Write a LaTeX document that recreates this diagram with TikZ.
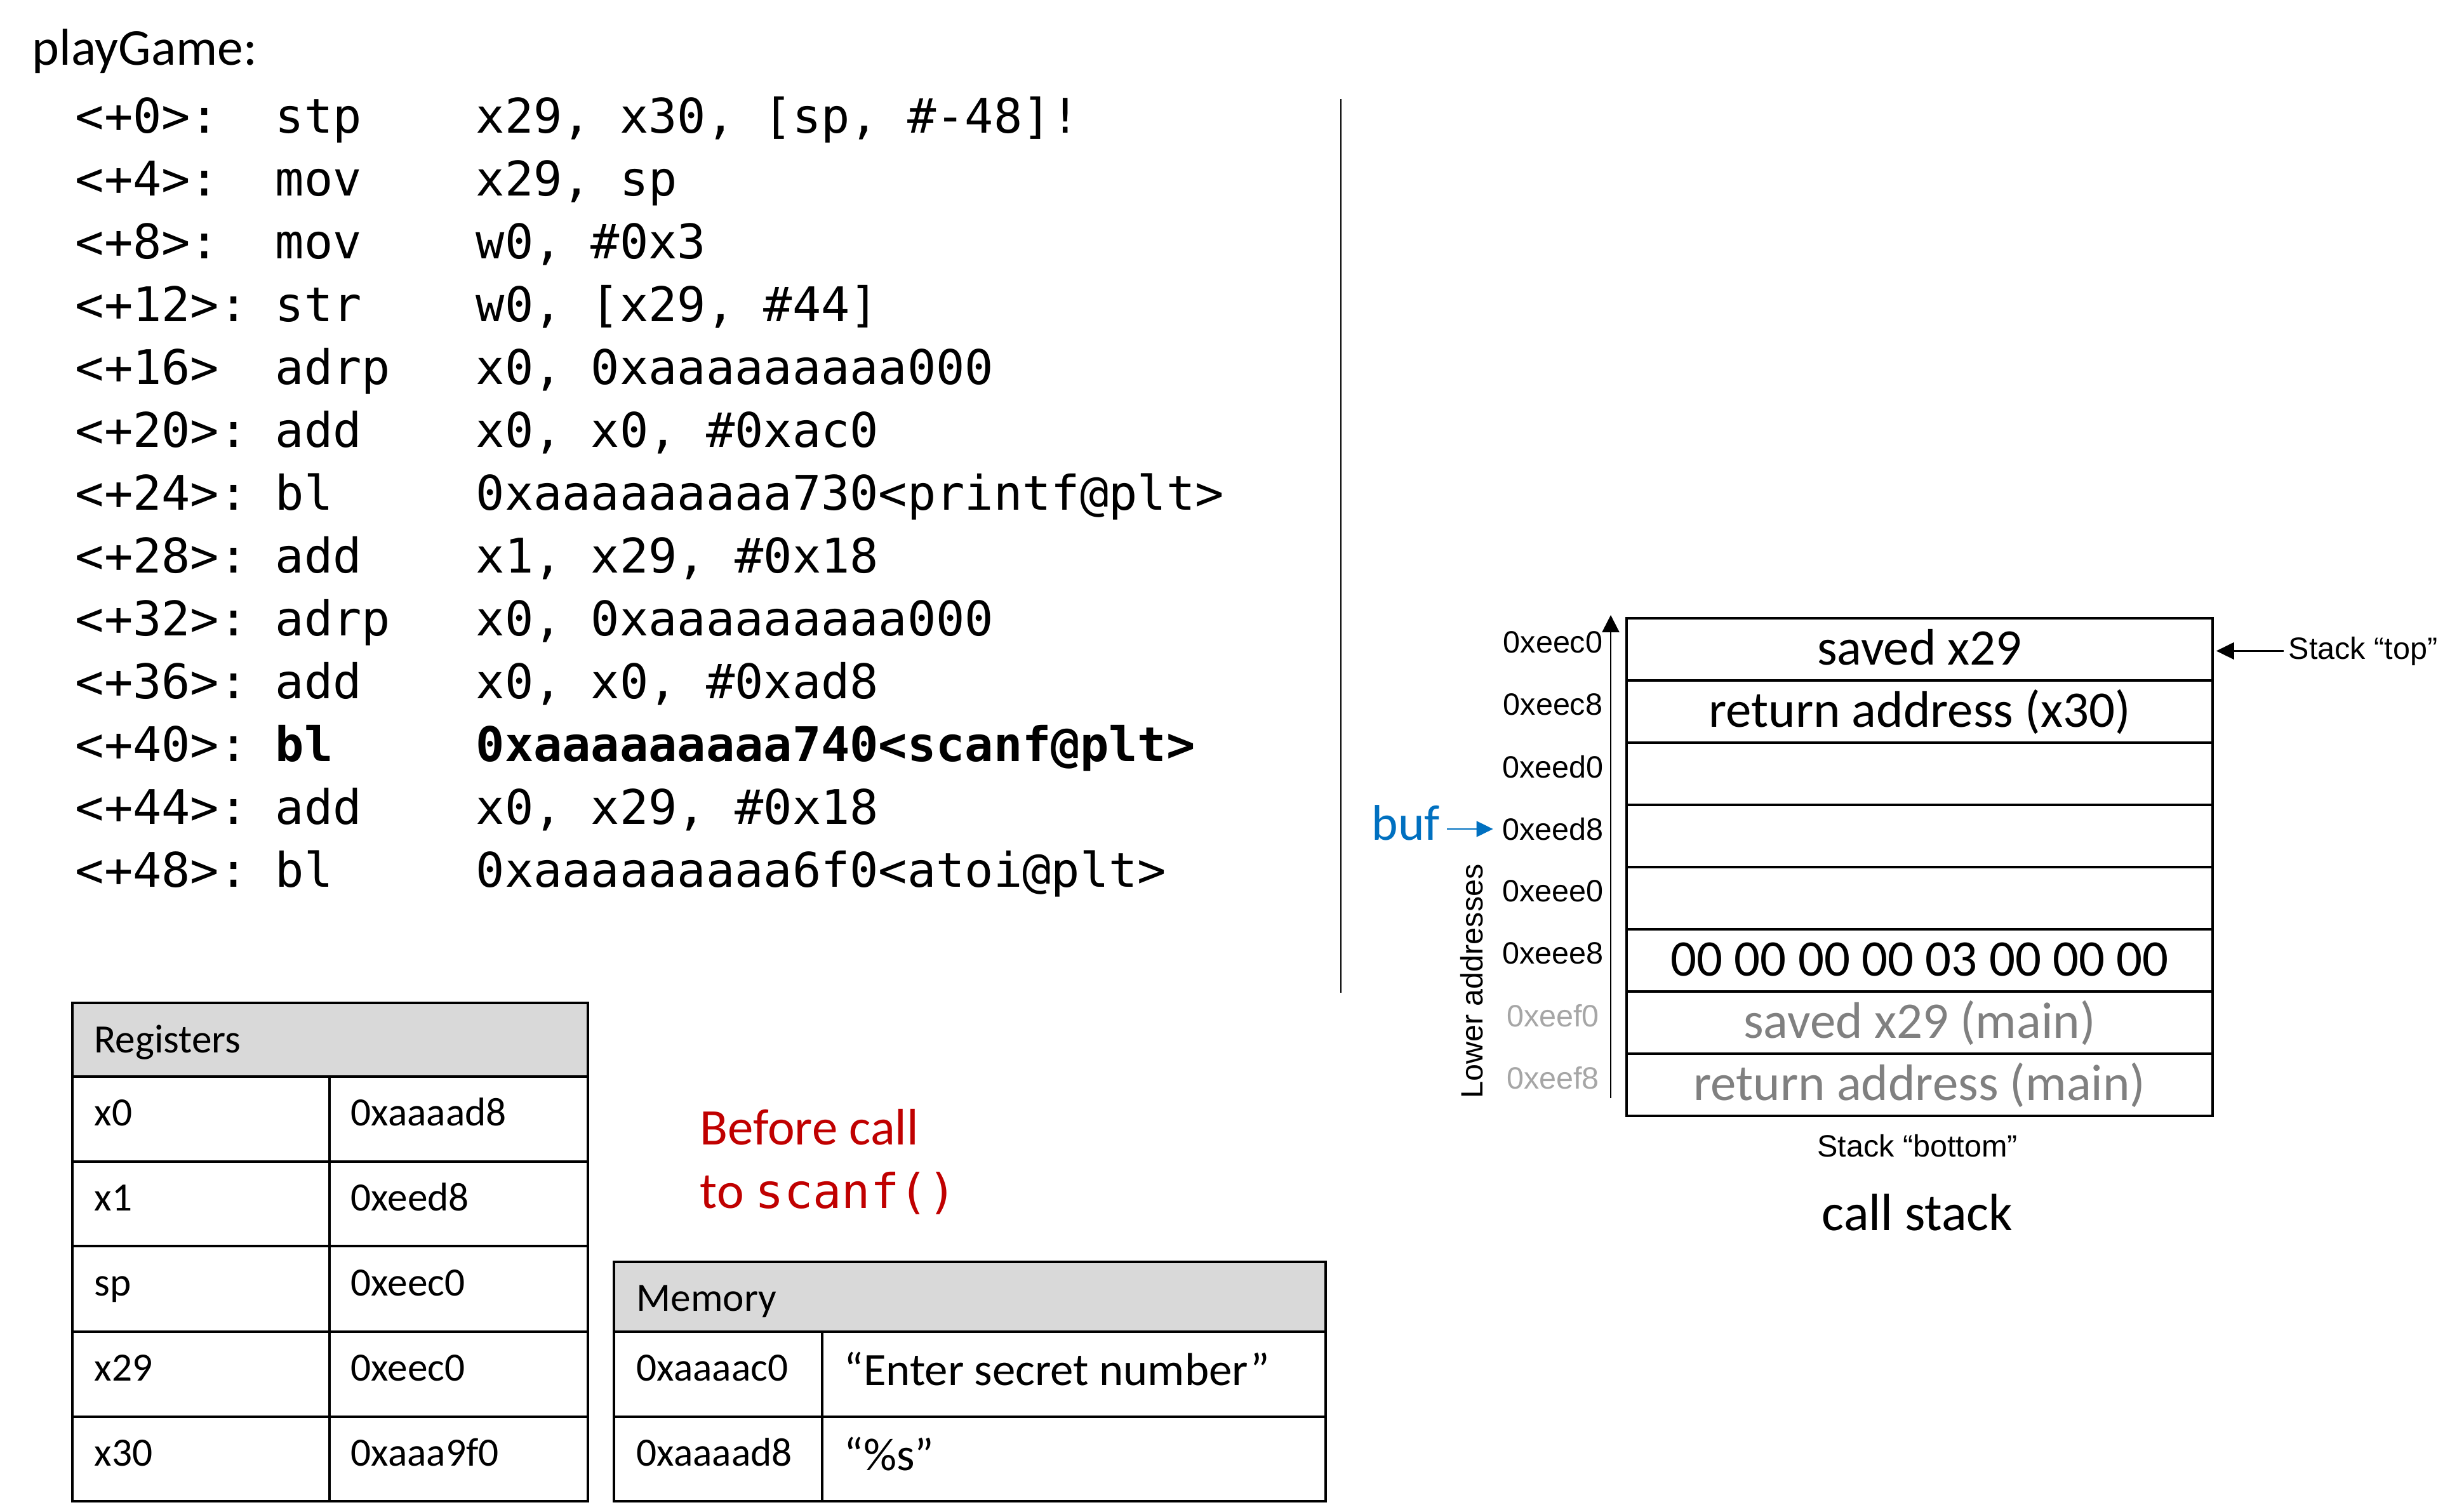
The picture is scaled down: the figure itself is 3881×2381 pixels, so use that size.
\documentclass[tikz,border=0pt]{standalone}
\usepackage{fontspec}
\setmainfont{Carlito}
\setmonofont{DejaVu Sans Mono}
\newfontfamily\arialfont{Liberation Sans}
\usetikzlibrary{arrows.meta}
\definecolor{notered}{HTML}{C00000}
\definecolor{bufblue}{HTML}{0070C0}
\definecolor{hdrgray}{HTML}{D9D9D9}
\definecolor{oldgray}{HTML}{808080}
\definecolor{addrgray}{HTML}{A6A6A6}

\begin{document}
\begin{tikzpicture}[x=0.01cm, y=-0.01cm,
  slot/.style={draw, line width=1.15pt, minimum width=9.23cm, minimum height=0.98cm,
    inner sep=0pt, text height=0.70cm, text depth=0.22cm, font=\fontsize{23}{27}\selectfont},
  addr/.style={inner sep=0pt, font=\arialfont\fontsize{13.8}{16}\selectfont},
  cell/.style={inner sep=0pt, anchor=base west, font=\fontsize{18}{22}\selectfont},
  code/.style={inner sep=0pt, anchor=base west, font=\ttfamily\fontsize{21.4}{26}\selectfont},
  tbl/.style={line width=0.95pt}]
\useasboundingbox (0,0) rectangle (3881,2381);

% disassembly listing
\node[anchor=base west, inner sep=0pt, font=\fontsize{23.2}{27}\selectfont] (fname) at (50,102) {playGame:};
\foreach \off/\op/\arg [count=\i from 0] in {
  {<+0>:}/{stp}/{x29, x30, [sp, \#-48]!},
  {<+4>:}/{mov}/{x29, sp},
  {<+8>:}/{mov}/{w0, \#0x3},
  {<+12>:}/{str}/{w0, [x29, \#44]},
  {<+16>}/{adrp}/{x0, 0xaaaaaaaaa000},
  {<+20>:}/{add}/{x0, x0, \#0xac0},
  {<+24>:}/{bl}/{0xaaaaaaaaa730<printf@plt>},
  {<+28>:}/{add}/{x1, x29, \#0x18},
  {<+32>:}/{adrp}/{x0, 0xaaaaaaaaa000},
  {<+36>:}/{add}/{x0, x0, \#0xad8},
  {<+40>:}/{\bfseries bl}/{\bfseries 0xaaaaaaaaa740<scanf@plt>},
  {<+44>:}/{add}/{x0, x29, \#0x18},
  {<+48>:}/{bl}/{0xaaaaaaaaa6f0<atoi@plt>}}
{
  \node[code] (off\i) at (118,209+99*\i) {\off};
  \node[code] (op\i) at (433,209+99*\i) {\op};
  \node[code] (arg\i) at (749,209+99*\i) {\arg};
}
\draw[line width=0.6pt] (2112,156) -- (2112,1564);

% registers
\fill[hdrgray] (114,1580) rectangle (926,1696);
\draw[tbl] (114,1580) rectangle (926,2365);
\foreach \y in {1696,1830,1963,2098,2232}
  \draw[tbl] (114,\y) -- (926,\y);
\draw[tbl] (519,1696) -- (519,2365);
\node[cell] (reghdr) at (148,1658) {Registers};
\foreach \r/\v [count=\i from 0] in {x0/0xaaaad8, x1/0xeed8, sp/0xeec0, x29/0xeec0, x30/0xaaa9f0}
{
  \node[cell] (reg\i) at (148,1773+134*\i) {\r};
  \node[cell] (val\i) at (552,1773+134*\i) {\v};
}

% memory
\fill[hdrgray] (967,1988) rectangle (2088,2098);
\draw[tbl] (967,1988) rectangle (2088,2365);
\draw[tbl] (967,2098) -- (2088,2098);
\draw[tbl] (967,2232) -- (2088,2232);
\draw[tbl] (1295,2098) -- (1295,2365);
\node[cell] (memhdr) at (1002,2065) {Memory};
\node[cell] (mem0) at (1002,2175) {0xaaaac0};
\node[cell, font=\fontsize{20.7}{25}\selectfont] (str0) at (1329,2182) {“Enter secret number”};
\node[cell] (mem1) at (1002,2309) {0xaaaad8};
\node[cell, font=\fontsize{20.7}{25}\selectfont] (str1) at (1329,2316) {“\%s”};

\node[anchor=base west, inner sep=0pt, text=notered, font=\fontsize{23}{27}\selectfont] (note1) at (1102,1803) {Before call};
\node[anchor=base west, inner sep=0pt, text=notered, font=\fontsize{23}{27}\selectfont] (note2) at (1102,1903)
  {to {\ttfamily\fontsize{21.4}{26}\selectfont scanf()}};

% call stack
\foreach \txt/\col [count=\i from 0] in {{saved x29}/black, {return address (x30)}/black,
  {}/black, {}/black, {}/black, {00 00 00 00 03 00 00 00}/black,
  {saved x29 (main)}/oldgray, {return address (main)}/oldgray}
  \node[slot, text=\col] (slot\i) at (3023.5,1023+98*\i) {\txt};
\foreach \a/\col [count=\i from 0] in {0xeec0/black, 0xeec8/black, 0xeed0/black, 0xeed8/black,
  0xeee0/black, 0xeee8/black, 0xeef0/addrgray, 0xeef8/addrgray}
  \node[addr, text=\col] (addr\i) at (2446,1012+98*\i) {\a};
\coordinate (axbot) at (2537,1730);
\coordinate (axtop) at (2537,969);
\draw[line width=0.6pt, -{Triangle[length=7.7pt,width=7.7pt]}] (axbot) -- (axtop);
\node[addr, rotate=90, anchor=base] (lower) at (2335,1546) {Lower addresses};

\node[anchor=base west, inner sep=0pt, text=bufblue, font=\fontsize{22.5}{27}\selectfont] (buf) at (2160,1323) {buf};
\draw[bufblue, line width=0.6pt, -{Triangle[length=7.4pt,width=7.1pt]}, shorten <=3pt, shorten >=4pt]
  (addr3.west -| buf.east) -- (addr3.west);

\node[addr, anchor=base west] (stacktop) at (3604,1038) {Stack “top”};
\draw[line width=0.6pt, -{Triangle[length=8pt,width=7.7pt]}, shorten <=2pt, shorten >=1pt]
  (stacktop.west) -- (stacktop.west -| slot0.east);
\node[addr, anchor=base] (stackbot) at (3020,1822) {Stack “bottom”};
\node[anchor=base, inner sep=0pt, font=\fontsize{23.5}{28}\selectfont] (title) at (3020,1938) {call stack};
\end{tikzpicture}
\end{document}
